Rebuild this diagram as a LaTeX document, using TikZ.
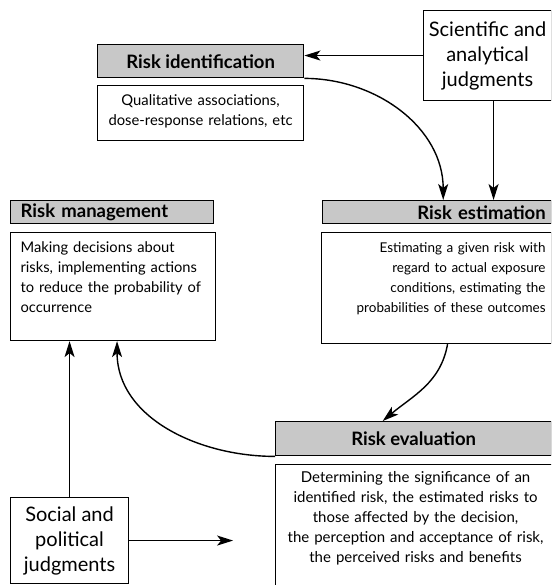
\documentclass[tikz,border=0pt]{standalone}
\usepackage{fontspec}
\setmainfont{Lato}
\usetikzlibrary{arrows.meta,positioning}
\definecolor{stipple}{RGB}{200,200,200}
\tikzstyle{header}=[draw,line width=1.4pt,fill=stipple,font=\fontsize{18.5}{20}\selectfont\bfseries,minimum height=23pt,inner xsep=8pt,inner ysep=0pt,anchor=north west]
\tikzstyle{textbox}=[draw,line width=1.1pt,font=\fontsize{14.5}{20}\selectfont,anchor=north west,inner xsep=8pt,inner ysep=8pt,text height=12pt]
\tikzstyle{judgebox}=[draw,line width=1.1pt,font=\fontsize{20}{25}\selectfont,align=center,anchor=north west,inner sep=0pt]
\tikzstyle{flow}=[line width=1.4pt,-{Stealth[length=16pt,width=10pt,inset=4pt]}]

\begin{document}
\begin{tikzpicture}[x=1pt,y=-1pt]
\useasboundingbox (0,0) rectangle (551,585);
\clip (0,0) rectangle (551,585);

% judgments
\node [judgebox,minimum width=128pt,minimum height=90pt] (sci) at (423,10) {Scientific and\\analytical\\judgments};
\node [judgebox,minimum width=118pt,minimum height=86pt] (social) at (10,497) {Social and\\political\\judgments};

% identification
\node [header,minimum width=206pt,minimum height=33pt] (ident) at (97,44) {Risk identification};
\node [textbox,text width=190pt,align=center,text depth=27pt,font=\fontsize{14.8}{20}\selectfont] (identtext) at (97,85)
  {Qualitative associations,\\dose-response relations, etc};

% management
\node [header,inner xsep=10pt,text width=183pt,align=left] (mgmt) at (10,200) {Risk management};
\node [textbox,inner xsep=10pt,text width=185pt,align=left,text depth=80pt,font=\fontsize{14.7}{20}\selectfont] (mgmttext) at (10,232)
  {Making decisions about\\risks, implementing actions\\to reduce the probability of\\occurrence};

% estimation
\node [header,inner xsep=6pt,text width=217pt,align=right] (est) at (322,200) {Risk estimation};
\node [textbox,inner xsep=6pt,text width=218pt,align=right,text depth=83pt,font=\fontsize{13.5}{20}\selectfont] (esttext) at (321,232)
  {Estimating a given risk with\\regard to actual exposure\\conditions, estimating the\\probabilities of these outcomes};

% evaluation
\node [header,minimum width=276pt,minimum height=34pt] (eval) at (275,421) {Risk evaluation};
\node [textbox,text width=264pt,align=center,inner ysep=6pt,text depth=107pt,font=\fontsize{15}{20}\selectfont] (evaltext) at (275,464)
  {Determining the significance of an\\identified risk, the estimated risks to\\those affected by the decision,\\the perception and acceptance of risk,\\the perceived risks and benefits};

% connectors
\draw [flow] (sci.west) -- (sci.west -| ident.east);
\draw [flow] (ident.south east) to[out=0,in=90] ([xshift=6pt]est.north);
\draw [flow] ([xshift=6pt]sci.south) -- ([xshift=6pt]sci.south |- est.north);
\draw [flow] ([xshift=11pt]esttext.south) to[out=-100,in=40] ([xshift=-31pt]eval.north);
\draw [flow] (eval.south west) to[out=180,in=-90] ([xshift=4pt]mgmttext.south);
\draw [flow] (social.north) -- (social.north |- mgmttext.south);
\coordinate (socialtip) at ([xshift=104pt]social.east);
\draw [flow] (social.east) -- (socialtip);
\end{tikzpicture}
\end{document}
